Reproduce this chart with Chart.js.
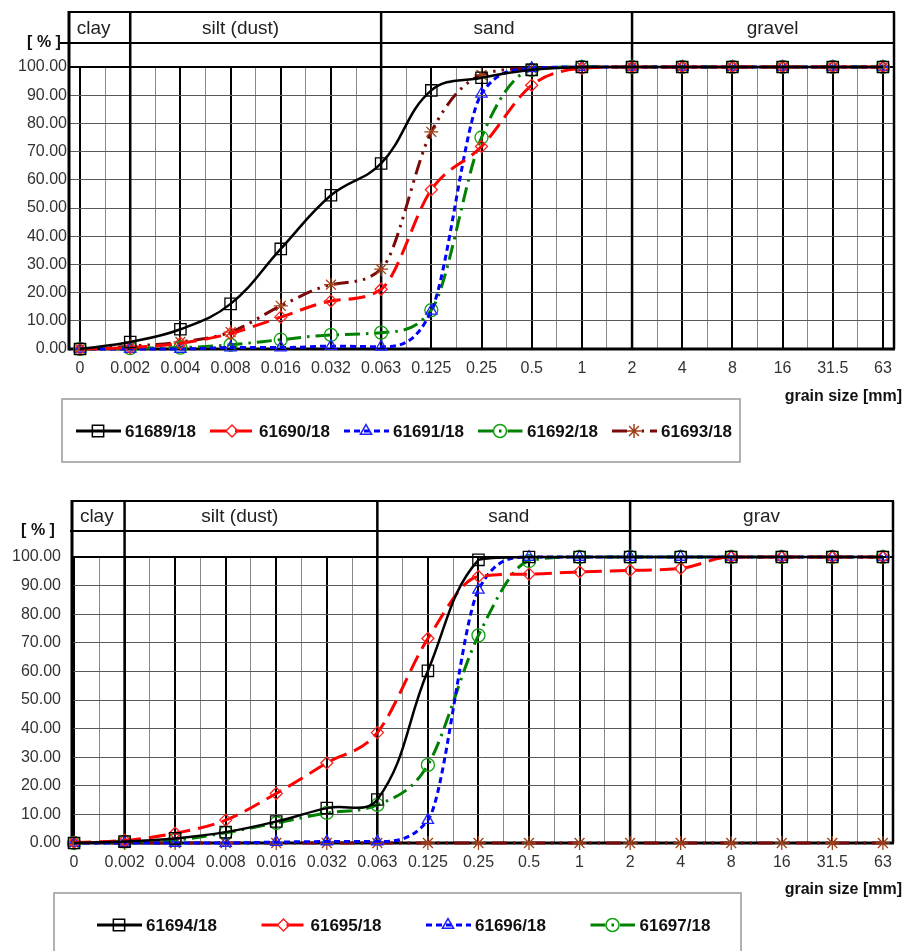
<!DOCTYPE html>
<html>
<head>
<meta charset="utf-8">
<script src="https://cdn.jsdelivr.net/npm/chart.js@4.4.1/dist/chart.umd.min.js"></script>
<style>
body { margin: 0; background: #fff; }
#main { position: relative; width: 905px; height: 951px; overflow: hidden; }
#main canvas { position: absolute; left: 0; }
</style>
</head>
<body>
<div id="main"></div>
<script>
var FONT = 'Arial, "Liberation Sans", Helvetica, sans-serif';

// x categories (sieve sizes in mm) and y ticks
var grainSizes = ['0', '0.002', '0.004', '0.008', '0.016', '0.032', '0.063', '0.125', '0.25', '0.5', '1', '2', '4', '8', '16', '31.5', '63'];
var percentTicks = [0, 10, 20, 30, 40, 50, 60, 70, 80, 90, 100];
var classBoundaries = ['0.002', '0.063', '2'];
var soilClassesTop = ['clay', 'silt (dust)', 'sand', 'gravel'];
var soilClassesBottom = ['clay', 'silt (dust)', 'sand', 'grav'];

// upper diagram
var namesTop = ['61689/18', '61690/18', '61691/18', '61692/18', '61693/18'];
var v61689 = [0, 2.5, 7, 16, 35.5, 54.5, 65.8, 91.7, 96.2, 99, 100, 100, 100, 100, 100, 100, 100];
var v61690 = [0, 0.5, 2, 5.5, 11.3, 17, 21.2, 56.5, 71.8, 93.5, 99.5, 100, 100, 100, 100, 100, 100];
var v61691 = [0, 0, 0, 0.5, 0.5, 1, 0.8, 13.5, 90.5, 99.5, 100, 100, 100, 100, 100, 100, 100];
var v61692 = [0, 0.3, 0.5, 1.5, 3.3, 5, 5.8, 13.8, 75, 99, 100, 100, 100, 100, 100, 100, 100];
var v61693 = [0, 1, 2.5, 6, 15.3, 22.8, 28.3, 77, 97.2, 99.5, 100, 100, 100, 100, 100, 100, 100];

// lower diagram
var namesBottom = ['61694/18', '61695/18', '61696/18', '61697/18'];
var v61694 = [0, 0.5, 1.6, 3.8, 7.5, 12.2, 15.2, 60.2, 99, 100, 100, 100, 100, 100, 100, 100, 100];
var v61695 = [0.2, 0.9, 3.4, 8, 17.3, 28, 38.6, 71.5, 93.2, 94, 94.8, 95.3, 96, 100, 100, 100, 100];
var v61696 = [0, 0, 0, 0, 0.3, 0.5, 0.5, 8, 88.5, 100, 100, 100, 100, 100, 100, 100, 100];
var v61697 = [0, 0.5, 1, 3.6, 7, 10.5, 13.3, 27.3, 72.6, 98.6, 100, 100, 100, 100, 100, 100, 100];
var vUnlisted = [0, 0, 0, 0, 0, 0, 0, 0, 0, 0, 0, 0, 0, 0, 0, 0, 0];

var styles = [
  { color: '#000000', point: '#000000', width: 2.5, dash: [], shape: 'rect', r: 8, smooth: 'default' },
  { color: '#ff0000', point: '#ff2020', width: 3, dash: [17, 8], shape: 'rectRot', r: 6, smooth: 'monotone' },
  { color: '#0000ff', point: '#2020ff', width: 3, dash: [6, 4], shape: 'triangle', r: 6.5, smooth: 'monotone' },
  { color: '#008000', point: '#10a010', width: 3, dash: [15, 6, 2.5, 6], shape: 'circle', r: 6.5, smooth: 'monotone' },
  { color: '#7a0a0a', point: '#a0401a', width: 3, dash: [15, 6, 2.5, 6, 2.5, 6], shape: 'star', r: 7, smooth: 'monotone' }
];

var halfTicks = [];
for (var i = 0; i < grainSizes.length; i++) {
  halfTicks.push(i);
  if (i < grainSizes.length - 1) halfTicks.push(i + 0.5);
}

function series(label, values, st, inLegend) {
  return {
    label: label,
    data: values.map(function (v, i) { return { x: i, y: v }; }),
    borderColor: st.color,
    borderWidth: st.width,
    borderDash: st.dash,
    pointStyle: st.shape,
    pointRadius: st.r,
    pointBorderColor: st.point,
    pointBackgroundColor: 'rgba(0,0,0,0)',
    pointBorderWidth: 1.3,
    cubicInterpolationMode: st.smooth,
    tension: 0.4,
    fill: false,
    clip: false,
    inLegend: inLegend
  };
}

function line(ctx, x1, y1, x2, y2) {
  ctx.beginPath();
  ctx.moveTo(x1, y1);
  ctx.lineTo(x2, y2);
  ctx.stroke();
}

function marker(ctx, st, x, y) {
  ctx.save();
  ctx.setLineDash([]);
  ctx.strokeStyle = st.point;
  ctx.fillStyle = 'rgba(0,0,0,0)';
  Chart.helpers.drawPoint(ctx, { pointStyle: st.shape, radius: st.r, borderWidth: 1.3, rotation: 0 }, x, y);
  ctx.restore();
}

var gsdPlugin = {
  id: 'gsd',
  beforeDatasetsDraw: function (chart, args, o) {
    var ctx = chart.ctx, a = chart.chartArea, xs = chart.scales.x;
    ctx.save();
    ctx.strokeStyle = '#000';
    ctx.lineWidth = 2.5;
    classBoundaries.forEach(function (g) {
      var px = xs.getPixelForValue(grainSizes.indexOf(g));
      line(ctx, px, o.headerTop, px, a.bottom);
    });
    ctx.lineWidth = 2;
    line(ctx, a.left, a.top, a.right, a.top);
    ctx.lineWidth = 2.5;
    line(ctx, a.right, o.headerTop, a.right, a.bottom);
    ctx.lineWidth = 3;
    line(ctx, a.left, o.headerTop - 1, a.left, a.bottom + 1.5);
    line(ctx, a.left, a.bottom, a.right + 1, a.bottom);
    ctx.restore();
  },
  afterDraw: function (chart, args, o) {
    var ctx = chart.ctx, a = chart.chartArea, xs = chart.scales.x;
    ctx.save();
    // soil class header
    ctx.strokeStyle = '#000';
    ctx.lineWidth = 2;
    line(ctx, a.left, o.headerTop, a.right + 1, o.headerTop);
    line(ctx, o.dividerLeft, o.headerMid, a.right + 1, o.headerMid);
    ctx.fillStyle = '#222';
    ctx.font = '19px ' + FONT;
    ctx.textAlign = 'center';
    ctx.textBaseline = 'middle';
    o.classes.forEach(function (name, i) {
      ctx.fillText(name, xs.getPixelForValue(o.classPos[i]), (o.headerTop + o.headerMid) / 2 + 1);
    });
    ctx.fillStyle = '#111';
    ctx.font = 'bold 16px ' + FONT;
    ctx.fillText('[ % ]', o.pctX, o.headerMid);
    ctx.textAlign = 'right';
    ctx.fillText('grain size [mm]', 902, o.axisTitleY);

    // legend
    var lg = o.legend;
    ctx.strokeStyle = '#999';
    ctx.lineWidth = 1.5;
    ctx.strokeRect(lg.x, lg.y, lg.w, lg.h);
    var n = 0;
    chart.data.datasets.forEach(function (ds, k) {
      if (!ds.inLegend) return;
      var st = styles[k];
      var lx = lg.first + n * lg.step;
      ctx.save();
      ctx.strokeStyle = st.color;
      ctx.lineWidth = 3;
      ctx.setLineDash(st.dash);
      line(ctx, lx, lg.itemY, lx + 45, lg.itemY);
      ctx.restore();
      marker(ctx, st, lx + 22, lg.itemY);
      ctx.fillStyle = '#111';
      ctx.font = 'bold 17px ' + FONT;
      ctx.textAlign = 'left';
      ctx.textBaseline = 'middle';
      ctx.fillText(ds.label, lx + 49, lg.itemY + 1);
      n++;
    });
    ctx.restore();
  }
};

function options(L) {
  return {
    responsive: false,
    animation: false,
    devicePixelRatio: 1,
    layout: { padding: { top: L.padTop, right: L.padRight, left: 0, bottom: 0 } },
    plugins: { legend: { display: false }, tooltip: { enabled: false }, gsd: L },
    scales: {
      x: {
        type: 'linear',
        min: L.xMin,
        max: L.xMax,
        afterBuildTicks: function (s) { s.ticks = halfTicks.map(function (v) { return { value: v }; }); },
        afterFit: function (s) { s.height = L.xHeight; s.paddingLeft = 0; s.paddingRight = 0; },
        ticks: {
          autoSkip: false, maxRotation: 0, padding: 10, color: '#333',
          font: { size: 16, family: FONT },
          callback: function (v) { return Number.isInteger(v) ? grainSizes[v] : ''; }
        },
        grid: {
          drawTicks: false,
          color: function (c) { return Number.isInteger(c.tick.value) ? '#000' : '#8a8a8a'; },
          lineWidth: function (c) { return Number.isInteger(c.tick.value) ? 2 : 1; }
        },
        border: { display: false }
      },
      y: {
        min: percentTicks[0],
        max: percentTicks[percentTicks.length - 1],
        afterBuildTicks: function (s) { s.ticks = percentTicks.map(function (v) { return { value: v }; }); },
        afterFit: function (s) { s.width = L.yWidth; s.paddingTop = 0; s.paddingBottom = 0; },
        ticks: {
          padding: L.yPad, color: '#333',
          font: { size: 16, family: FONT },
          callback: function (v) { return v.toFixed(2); }
        },
        grid: { drawTicks: false, color: '#5a5a5a', lineWidth: 1 },
        border: { display: false }
      }
    }
  };
}

var main = document.getElementById('main');

function addCanvas(id, top, height) {
  var c = document.createElement('canvas');
  c.id = id;
  c.width = 905;
  c.height = height;
  c.style.top = top + 'px';
  main.appendChild(c);
  return c;
}

//
// upper diagram
//
var topCanvas = addCanvas('gsdTop', 0, 475);
var topSets = [v61689, v61690, v61691, v61692, v61693].map(function (vals, k) {
  return series(namesTop[k], vals, styles[k], true);
});
new Chart(topCanvas, {
  type: 'line',
  data: { datasets: topSets },
  options: options({
    padTop: 67, padRight: 11, yWidth: 69, xHeight: 126, yPad: 2,
    xMin: -0.22, xMax: 16.22,
    headerTop: 12, headerMid: 43, dividerLeft: 60, pctX: 44, axisTitleY: 397,
    classes: soilClassesTop, classPos: [0.27, 3.2, 8.25, 13.8],
    legend: { x: 62, y: 399, w: 678, h: 63, first: 76, step: 134, itemY: 431 }
  }),
  plugins: [gsdPlugin]
});

//
// lower diagram
//
var bottomCanvas = addCanvas('gsdBottom', 475, 476);
var bottomSets = [v61694, v61695, v61696, v61697].map(function (vals, k) {
  return series(namesBottom[k], vals, styles[k], true);
});
bottomSets.push(series('', vUnlisted, styles[4], false));
new Chart(bottomCanvas, {
  type: 'line',
  data: { datasets: bottomSets },
  options: options({
    padTop: 82, padRight: 12, yWidth: 72, xHeight: 108, yPad: 11,
    xMin: -0.04, xMax: 16.2,
    headerTop: 26, headerMid: 56, dividerLeft: 70, pctX: 38, axisTitleY: 415,
    classes: soilClassesBottom, classPos: [0.45, 3.28, 8.6, 13.6],
    legend: { x: 54, y: 418, w: 687, h: 80, first: 97, step: 164.5, itemY: 450 }
  }),
  plugins: [gsdPlugin]
});
</script>
</body>
</html>
